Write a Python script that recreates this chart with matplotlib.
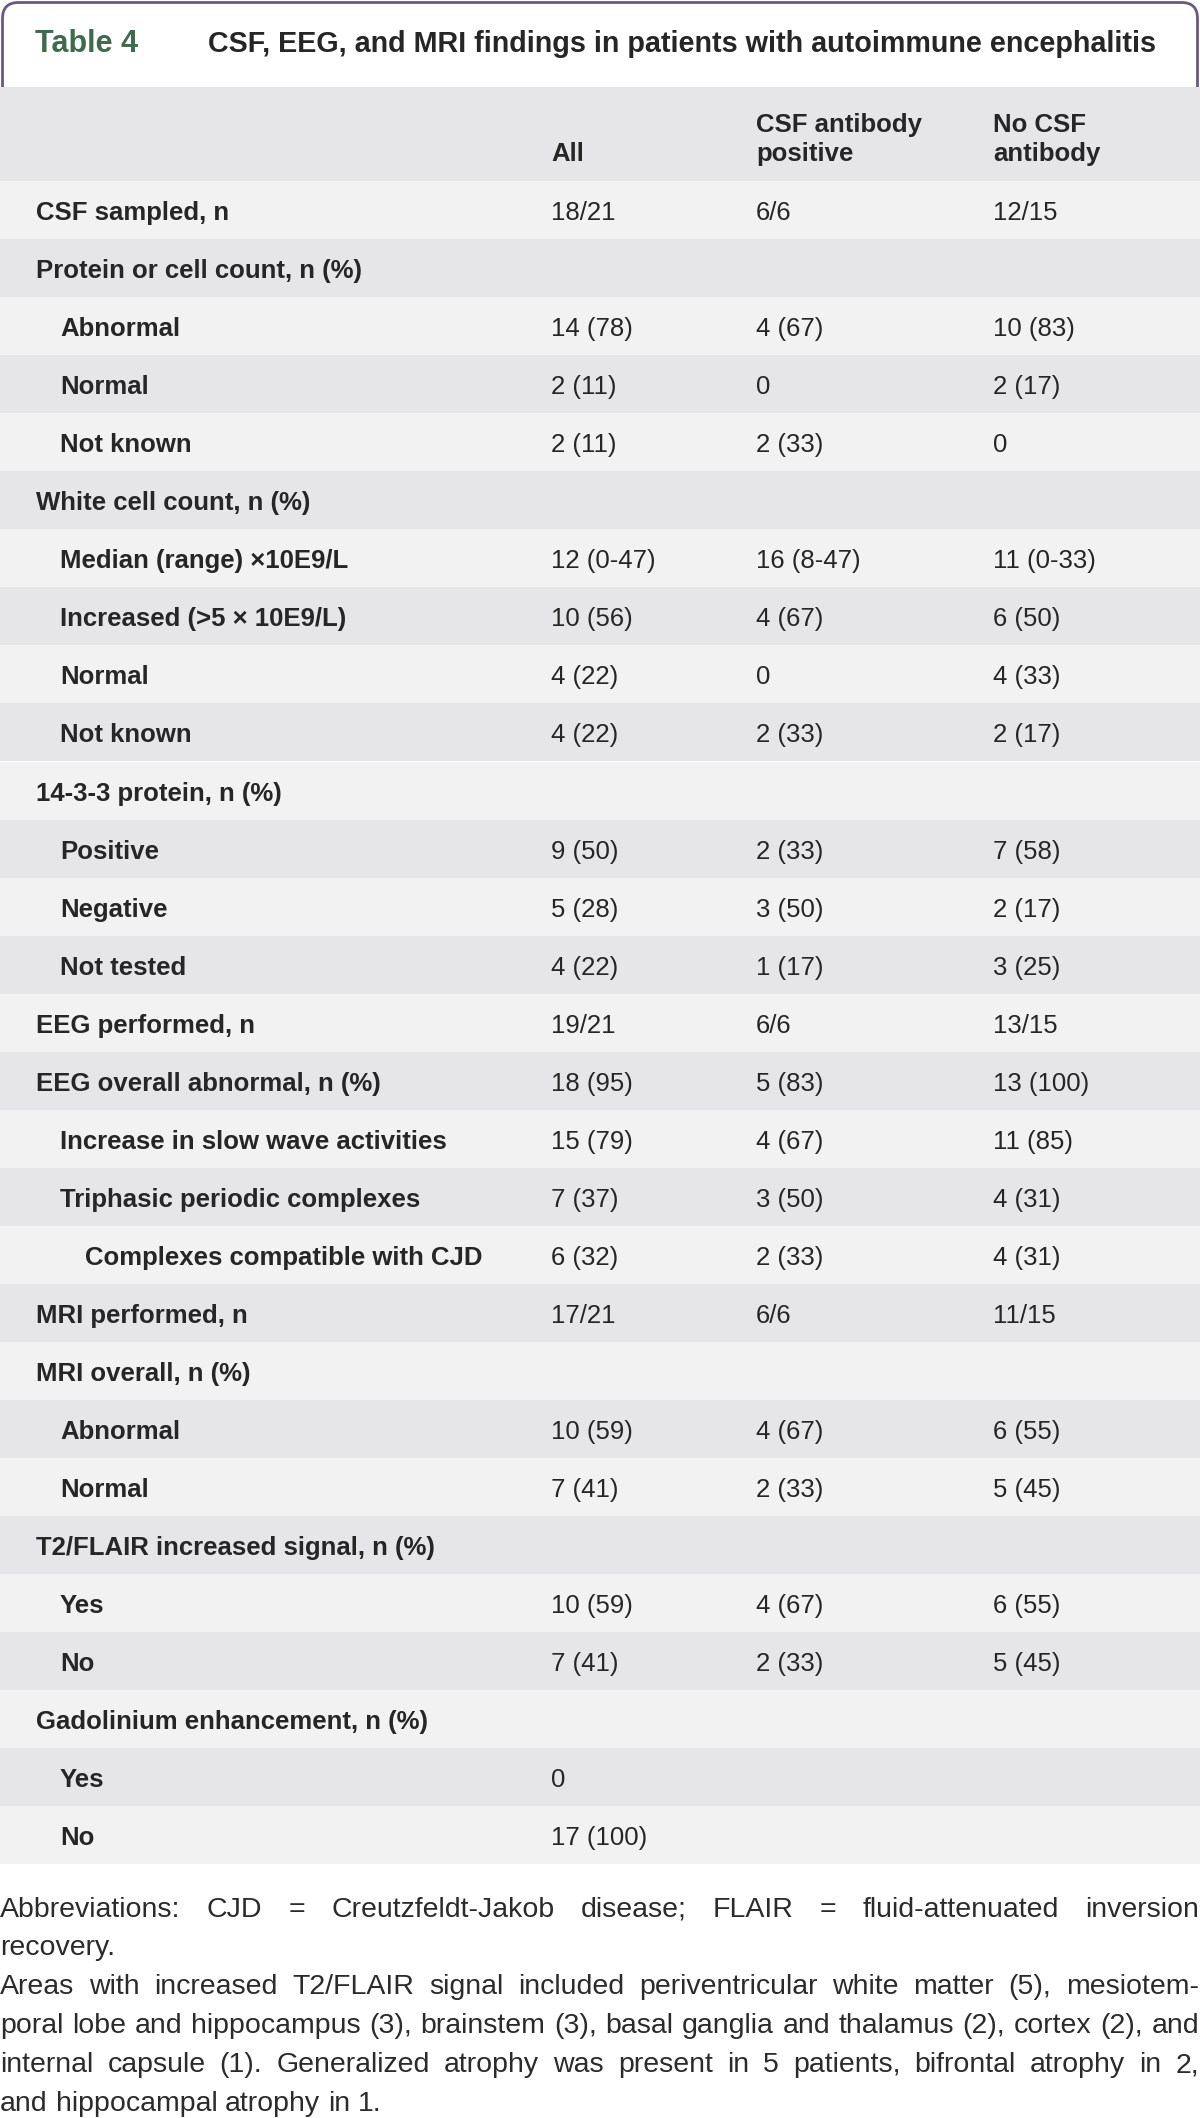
import matplotlib
matplotlib.use('Agg')
import matplotlib.pyplot as plt
from matplotlib.patches import FancyBboxPatch, Rectangle

plt.rcParams['font.family'] = ['Liberation Sans', 'DejaVu Sans']

# ---- table data ----
title_tag = 'Table 4'
title_text = 'CSF, EEG, and MRI findings in patients with autoimmune encephalitis'
col_heads = [['All'], ['CSF antibody', 'positive'], ['No CSF', 'antibody']]

labels = ['CSF sampled, n', 'Protein or cell count, n (%)', 'Abnormal', 'Normal', 'Not known',
          'White cell count, n (%)', 'Median (range) \u00d710E9/L', 'Increased (>5 \u00d7 10E9/L)',
          'Normal', 'Not known', '14-3-3 protein, n (%)', 'Positive', 'Negative', 'Not tested',
          'EEG performed, n', 'EEG overall abnormal, n (%)', 'Increase in slow wave activities',
          'Triphasic periodic complexes', 'Complexes compatible with CJD', 'MRI performed, n',
          'MRI overall, n (%)', 'Abnormal', 'Normal', 'T2/FLAIR increased signal, n (%)',
          'Yes', 'No', 'Gadolinium enhancement, n (%)', 'Yes', 'No']
indent = [0, 0, 1, 1, 1, 0, 1, 1, 1, 1, 0, 1, 1, 1, 0, 0, 1, 1, 2, 0, 0, 1, 1, 0, 1, 1, 0, 1, 1]
col_all = ['18/21', '', '14 (78)', '2 (11)', '2 (11)', '', '12 (0-47)', '10 (56)', '4 (22)', '4 (22)',
           '', '9 (50)', '5 (28)', '4 (22)', '19/21', '18 (95)', '15 (79)', '7 (37)', '6 (32)',
           '17/21', '', '10 (59)', '7 (41)', '', '10 (59)', '7 (41)', '', '0', '17 (100)']
col_pos = ['6/6', '', '4 (67)', '0', '2 (33)', '', '16 (8-47)', '4 (67)', '0', '2 (33)',
           '', '2 (33)', '3 (50)', '1 (17)', '6/6', '5 (83)', '4 (67)', '3 (50)', '2 (33)',
           '6/6', '', '4 (67)', '2 (33)', '', '4 (67)', '2 (33)', '', '', '']
col_neg = ['12/15', '', '10 (83)', '2 (17)', '0', '', '11 (0-33)', '6 (50)', '4 (33)', '2 (17)',
           '', '7 (58)', '2 (17)', '3 (25)', '13/15', '13 (100)', '11 (85)', '4 (31)', '4 (31)',
           '11/15', '', '6 (55)', '5 (45)', '', '6 (55)', '5 (45)', '', '', '']

foot_lines = [
    'Abbreviations: CJD = Creutzfeldt-Jakob disease; FLAIR = fluid-attenuated inversion',
    'recovery.',
    'Areas with increased T2/FLAIR signal included periventricular white matter (5), mesiotem-',
    'poral lobe and hippocampus (3), brainstem (3), basal ganglia and thalamus (2), cortex (2), and',
    'internal capsule (1). Generalized atrophy was present in 5 patients, bifrontal atrophy in 2,',
    'and hippocampal atrophy in 1.',
]
foot_justify = [True, False, True, True, True, False]

# ---- layout ----
W, H = 1200, 2118
fig = plt.figure(figsize=(W / 100, H / 100), dpi=100)
ax = fig.add_axes([0, 0, 1, 1])
ax.set_xlim(0, W)
ax.set_ylim(H, 0)
ax.axis('off')
renderer = fig.canvas.get_renderer()

purple = '#6b5880'
green = '#3e6b4b'
dark = '#262626'
band_dark = '#e6e6e8'
band_light = '#f2f2f2'


def text_width(s, size, **kw):
    t = ax.text(0, 0, s, fontsize=size, **kw)
    w = t.get_window_extent(renderer).width
    t.remove()
    return w


# title box with rounded top
box = FancyBboxPatch((2.5, 2.5), W - 5, 120, boxstyle='round,pad=0,rounding_size=16',
                     fc='white', ec=purple, lw=2.0, zorder=1)
ax.add_patch(box)
ax.text(35, 52, title_tag, color=green, fontsize=22, fontweight='bold', va='baseline', zorder=3)
tsize = 22 * 948 / text_width(title_text, 22, fontweight='bold')
ax.text(208, 52, title_text, color=dark, fontsize=tsize, fontweight='bold', va='baseline', zorder=3)

# header band
ax.add_patch(Rectangle((0, 87), W, 94, fc=band_dark, ec='none', zorder=2))
col_x = [551, 756, 993]
for cx, head in zip(col_x, col_heads):
    for k, line in enumerate(reversed(head)):
        ax.text(cx, 161 - 29 * k, line, color=dark, fontsize=18.5, fontweight='bold',
                va='baseline', zorder=3)

# body rows
row_top = 181
row_h = 58.05
indent_x = [36, 60, 85]
for i, lab in enumerate(labels):
    y0 = row_top + i * row_h
    ax.add_patch(Rectangle((0, y0), W, row_h, fc=band_light if i % 2 == 0 else band_dark,
                           ec='none', zorder=2))
    base = y0 + 39
    ax.text(indent_x[indent[i]], base, lab, color=dark, fontsize=18.5, fontweight='bold',
            va='baseline', zorder=3)
    for cx, val in zip(col_x, (col_all[i], col_pos[i], col_neg[i])):
        if val:
            ax.text(cx, base, val, color=dark, fontsize=18.5, va='baseline', zorder=3)

# footnote, justified to full width
foot_size = 20.5
foot_base = [1917, 1955, 1994, 2033, 2072, 2111]
sp_w = text_width('a a', foot_size) - text_width('aa', foot_size)

for line, just, yb in zip(foot_lines, foot_justify, foot_base):
    words = line.split(' ')
    ws = [text_width(w, foot_size) for w in words]
    if just and len(words) > 1:
        gap = (W - 1 - sum(ws)) / (len(words) - 1)
    else:
        gap = sp_w
    x = 0
    for w, wd in zip(words, ws):
        ax.text(x, yb, w, color='#2b2b2b', fontsize=foot_size, va='baseline', zorder=3)
        x += wd + gap

fig.savefig('out.png', dpi=100, facecolor='white')
